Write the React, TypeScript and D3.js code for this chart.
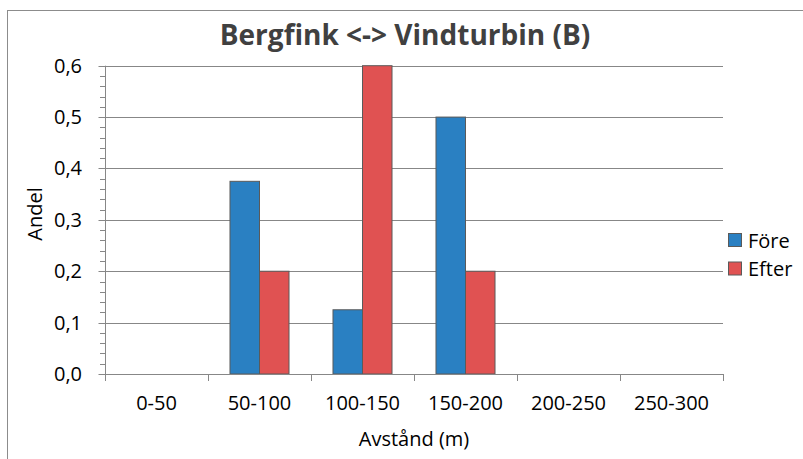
import React from "react";
import * as d3 from "d3";

const categories = ["0-50", "50-100", "100-150", "150-200", "200-250", "250-300"];
const seriesNames = ["Före", "Efter"];
const foreValues = [0, 0.375, 0.125, 0.5, 0, 0];
const efterValues = [0, 0.2, 0.6, 0.2, 0, 0];
const yTicks = [0, 0.1, 0.2, 0.3, 0.4, 0.5, 0.6];
const colors = ["#2A80C2", "#E05252"];
const titleText = "Bergfink <-> Vindturbin (B)";
const xTitle = "Avstånd (m)";
const yTitle = "Andel";

export default function App() {
  const W = 803, H = 459;
  const left = 105, right = 723, top = 65.7, bottom = 374;
  const x = d3.scaleBand<string>().domain(categories).range([left, right]).paddingInner(0).paddingOuter(0);
  const bw = x.bandwidth();
  const groupW = bw * 0.573;
  const barW = groupW / 2;
  const y = d3.scaleLinear().domain([0, 0.6]).range([bottom, top]);
  const minorTicks = d3.range(0, 0.6001, 0.02);
  const series = [foreValues, efterValues];
  const font = "'Open Sans', sans-serif";
  const grid = "#878787";
  const fmt = (v: number) => v.toFixed(1).replace(".", ",");

  return (
    <svg width={W} height={H} style={{ position: "absolute", left: 0, top: 0, background: "#fff" }}>
      <rect x={0} y={0} width={W} height={H} fill="#fff" />
      <rect x={7.5} y={10.5} width={805} height={470} fill="none" stroke="#8c8c8c" strokeWidth={1} />
      <text x={405} y={45} textAnchor="middle" fontFamily={font} fontWeight="bold" fontSize={28} fill="#404040">
        {titleText}
      </text>
      {/* gridlines */}
      {yTicks.filter((t) => t > 0).map((t) => (
        <line key={"g" + t} x1={left} x2={right} y1={Math.round(y(t)) + 0.5} y2={Math.round(y(t)) + 0.5} stroke={grid} strokeWidth={1} />
      ))}
      {/* bars */}
      {categories.map((c, i) =>
        series.map((s, j) => {
          const v = s[i];
          if (v <= 0) return null;
          const cx = (x(c) as number) + bw / 2;
          const bx = cx - groupW / 2 + j * barW;
          return (
            <rect key={c + j} x={bx} y={y(v)} width={barW} height={bottom - y(v)} fill={colors[j]} stroke="#5a5a5a" strokeWidth={1} />
          );
        })
      )}
      {/* y axis */}
      <line x1={left + 0.5} x2={left + 0.5} y1={top} y2={bottom} stroke={grid} strokeWidth={1} />
      {minorTicks.map((t, i) => (
        <line key={"m" + i} x1={100} x2={left} y1={Math.round(y(t)) + 0.5} y2={Math.round(y(t)) + 0.5} stroke={grid} strokeWidth={1} />
      ))}
      {yTicks.map((t) => (
        <g key={"y" + t}>
          <line x1={98.5} x2={left} y1={Math.round(y(t)) + 0.5} y2={Math.round(y(t)) + 0.5} stroke={grid} strokeWidth={1} />
          <text x={82} y={y(t) + 7} textAnchor="end" fontFamily={font} fontSize={20} fill="#000">
            {fmt(t)}
          </text>
        </g>
      ))}
      {/* x axis */}
      <line x1={left} x2={right} y1={bottom + 0.5} y2={bottom + 0.5} stroke={grid} strokeWidth={1} />
      {d3.range(categories.length + 1).map((i) => {
        const xx = Math.round(left + i * bw) + 0.5;
        return <line key={"xt" + i} x1={xx} x2={xx} y1={bottom} y2={bottom + 7} stroke={grid} strokeWidth={1} />;
      })}
      {categories.map((c) => (
        <text key={"xl" + c} x={(x(c) as number) + bw / 2} y={410} textAnchor="middle" fontFamily={font} fontSize={20} fill="#000">
          {c}
        </text>
      ))}
      <text x={(left + right) / 2} y={446} textAnchor="middle" fontFamily={font} fontSize={20} fill="#000">
        {xTitle}
      </text>
      <text transform={`translate(42,214) rotate(-90)`} textAnchor="middle" fontFamily={font} fontSize={20} fill="#000">
        {yTitle}
      </text>
      {/* legend */}
      {seriesNames.map((n, j) => (
        <g key={"lg" + n}>
          <rect x={728.5} y={233.5 + j * 28.5} width={13} height={13} fill={colors[j]} stroke="#5a5a5a" strokeWidth={1} />
          <text x={748} y={247.5 + j * 28.5} fontFamily={font} fontSize={20} fill="#000">
            {n}
          </text>
        </g>
      ))}
    </svg>
  );
}
